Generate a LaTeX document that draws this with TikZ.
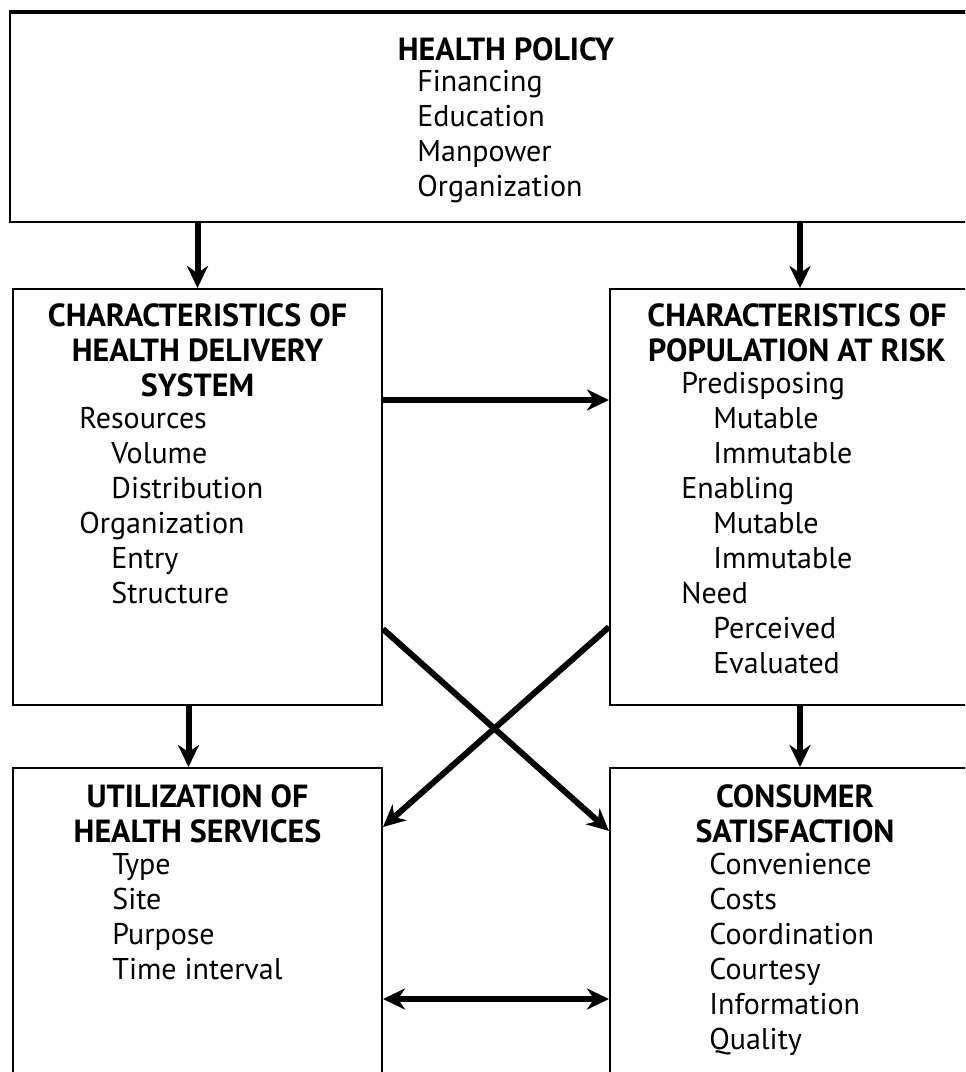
\documentclass[tikz,border=0pt]{standalone}
\usepackage{fontspec}
\setmainfont{PT Sans}
\usetikzlibrary{arrows.meta,positioning}

\newcommand{\boxfont}{\fontsize{15}{17.5}\selectfont}
\newcommand{\headfont}{\fontsize{16}{17.5}\selectfont\bfseries}
\newcommand{\subin}{\hspace*{16pt}}

\tikzset{
  box/.style={draw, line width=1pt, inner sep=0pt},
  head/.style={font=\headfont, align=center, inner sep=0pt},
  items/.style={font=\boxfont, align=left, inner sep=0pt},
  link/.style={->, line width=3pt}
}

\begin{document}
\begin{tikzpicture}[>={Stealth[length=11pt,width=10.5pt,inset=3.5pt]}]
  \clip (0,0) rectangle (482.5pt,-536pt);

  \node[box, minimum width=490pt, minimum height=104.5pt] (policy) at (250pt,-58.75pt) {};
  \node[box, minimum width=184.5pt, minimum height=208pt, below right=32.5pt and 1.5pt of policy.south west] (hds) {};
  \node[box, minimum width=190pt, minimum height=208pt, right=113pt of hds] (par) {};
  \node[box, minimum width=184.5pt, minimum height=163pt, below=30.5pt of hds] (use) {};
  \node[box, minimum width=190pt, minimum height=163pt, right=113pt of use] (sat) {};
  \draw[line width=1.6pt] (policy.north west) -- (policy.north east);

  % health policy
  \node[head, below=12.5pt of policy.north, xshift=3pt] (policyT) {HEALTH POLICY};
  \node[items, below right=29pt and 204pt of policy.north west] (policyL)
    {Financing\\Education\\Manpower\\Organization};

  % delivery system
  \node[head, below=7.5pt of hds.north] (hdsT) {CHARACTERISTICS OF\\HEALTH DELIVERY\\SYSTEM};
  \node[items, below right=59.5pt and 33.5pt of hds.north west] (hdsL)
    {Resources\\\subin Volume\\\subin Distribution\\Organization\\\subin Entry\\\subin Structure};

  % population at risk
  \node[head, below=7.5pt of par.north, xshift=-1.5pt] (parT) {CHARACTERISTICS OF\\POPULATION AT RISK};
  \node[items, below right=42pt and 36pt of par.north west] (parL)
    {Predisposing\\\subin Mutable\\\subin Immutable\\Enabling\\\subin Mutable\\\subin Immutable\\Need\\\subin Perceived\\\subin Evaluated};

  % utilization
  \node[head, below=8.5pt of use.north] (useT) {UTILIZATION OF\\HEALTH SERVICES};
  \node[items, below right=43pt and 50pt of use.north west] (useL)
    {Type\\Site\\Purpose\\Time interval};

  % satisfaction
  \node[head, below=8.5pt of sat.north, xshift=-2.5pt] (satT) {CONSUMER\\SATISFACTION};
  \node[items, below right=43pt and 50pt of sat.north west] (satL)
    {Convenience\\Costs\\Coordination\\Courtesy\\Information\\Quality};

  \draw[link] (policy.south -| hds.north) -- (hds.north);
  \draw[link] (policy.south -| par.north) -- (par.north);
  \draw[link] ([yshift=48.5pt]hds.east) -- ([yshift=48.5pt]par.west);
  \draw[link] ([xshift=-4.5pt]hds.south) -- ([xshift=-4.5pt]use.north);
  \draw[link] (par.south) -- (sat.north);
  \draw[link] ([yshift=-66pt]hds.east) -- ([yshift=50pt]sat.west);
  \draw[link] ([yshift=-65pt]par.west) -- ([yshift=52pt]use.east);
  \draw[link, <->] ([yshift=-34pt]use.east) -- ([yshift=-34pt]sat.west);
\end{tikzpicture}
\end{document}
